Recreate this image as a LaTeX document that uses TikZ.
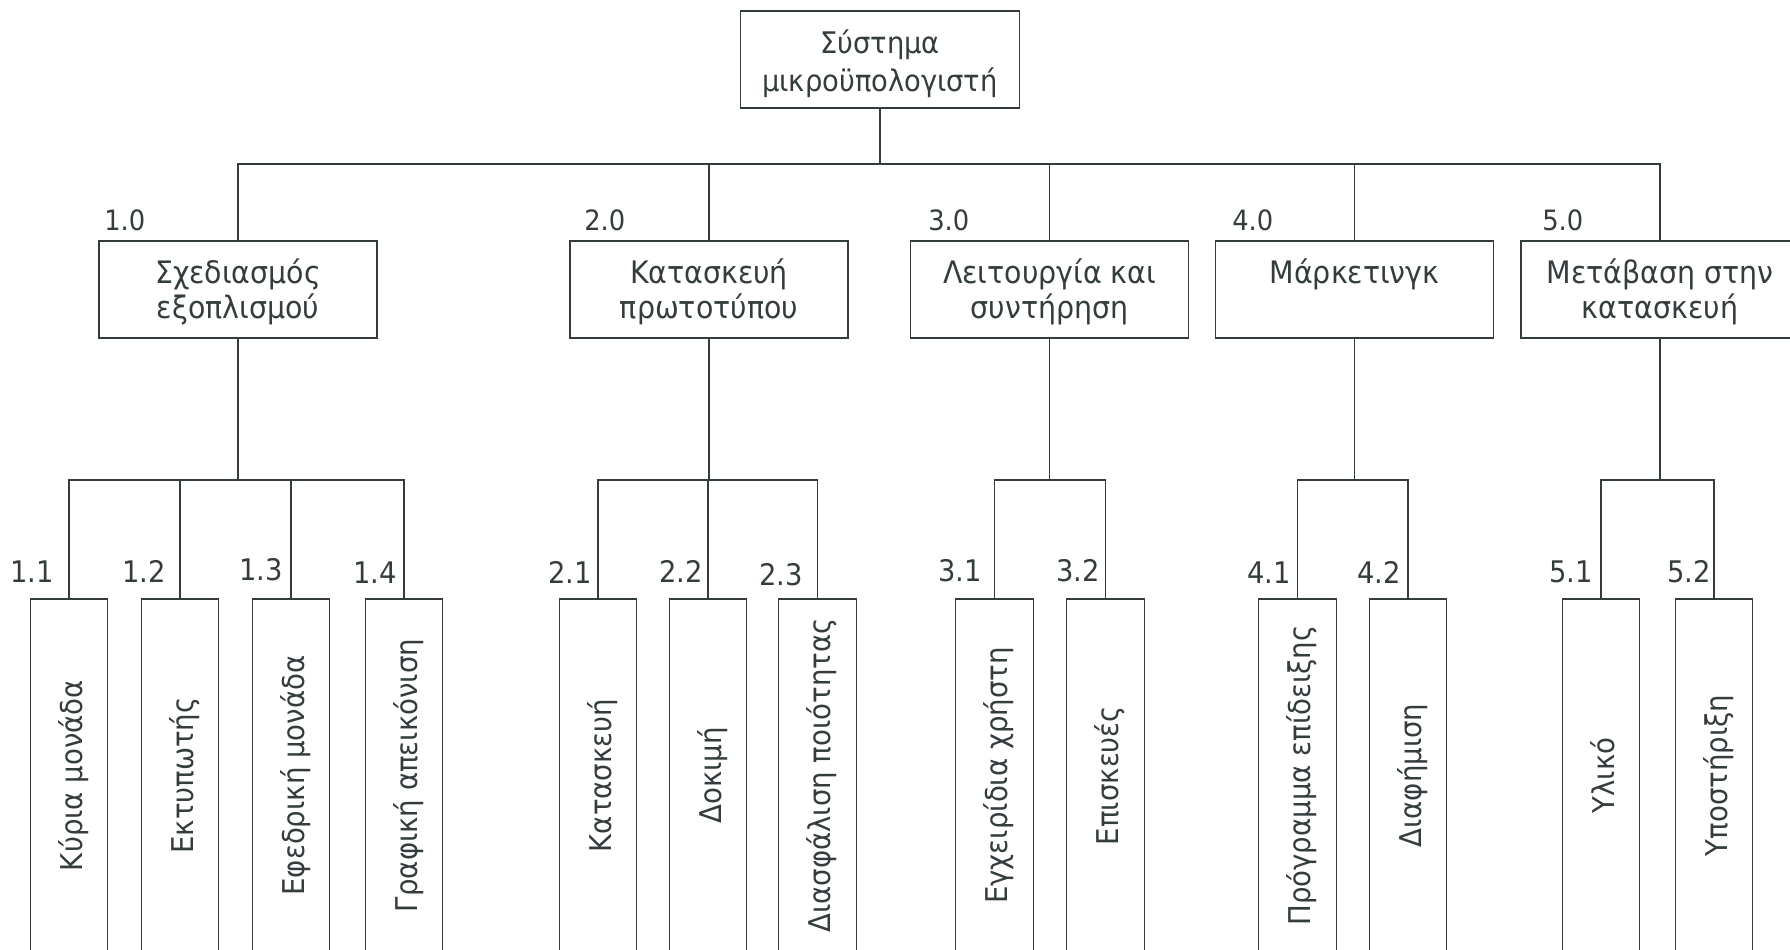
\documentclass[tikz,border=0pt]{standalone}
\usepackage{fontspec}
\setmainfont{DejaVu Sans}[FakeStretch=0.92]
\usetikzlibrary{calc}
\definecolor{ink}{RGB}{52,60,62}

\begin{document}
\begin{tikzpicture}[x=0.75pt,y=-0.75pt,
  every node/.style={text=ink},
  wire/.style={draw=ink,line width=1.05pt},
  boxline/.style={draw=ink,line width=1.05pt,inner sep=0pt},
  rootbox/.style={boxline,minimum width=209.25pt,minimum height=72.75pt,align=center,
    font=\fontsize{22.3}{28.8}\selectfont,text height=54.3pt,text depth=6pt},
  mainbox/.style={boxline,minimum width=208.5pt,minimum height=72.75pt,align=center,
    font=\fontsize{23.2}{26.25}\selectfont,text height=49.2pt,text depth=6pt},
  mainone/.style={mainbox,text height=19.3pt,text depth=28.6pt},
  subbox/.style={boxline,minimum width=58.1pt,minimum height=264.75pt},
  subtext/.style={rotate=90,inner sep=0pt,text=ink,
    font=\fontsize{22.5}{26}\selectfont,text height=19.8pt,text depth=0pt},
  numA/.style={anchor=base west,inner sep=0pt,font=\fontsize{21}{24}\selectfont},
  numB/.style={anchor=base west,inner sep=0pt,font=\fontsize{22.3}{26}\selectfont}
]
\useasboundingbox (0,0) rectangle (1790,949);
\clip (0,0) rectangle (1790,949);

% top of the breakdown
\node[rootbox] (root) at (880,59.5) {Σύστημα\\μικροϋπολογιστή};

% first level
\node[mainbox] (b1) at (238,289.5)    {Σχεδιασμός\\εξοπλισμού};
\node[mainbox] (b2) at (709,289.5)    {Κατασκευή\\πρωτοτύπου};
\node[mainbox] (b3) at (1049.5,289.5) {Λειτουργία και\\συντήρηση};
\node[mainone] (b4) at (1354.5,289.5) {Μάρκετινγκ};
\node[mainbox] (b5) at (1660,289.5)   {Μετάβαση στην\\κατασκευή};

\node[numA] (n10) at (104,230)  {1.0};
\node[numA] (n20) at (584,230)  {2.0};
\node[numA] (n30) at (928,230)  {3.0};
\node[numA] (n40) at (1232,230) {4.0};
\node[numA] (n50) at (1542,230) {5.0};

% second level
\node[subbox,label={[subtext]center:Κύρια μονάδα}]        (s11) at (69,775.5)     {};
\node[subbox,label={[subtext]center:Εκτυπωτής}]           (s12) at (180,775.5)    {};
\node[subbox,label={[subtext]center:Εφεδρική μονάδα}]     (s13) at (291,775.5)    {};
\node[subbox,label={[subtext]center:Γραφική απεικόνιση}]  (s14) at (404,775.5)    {};
\node[subbox,label={[subtext]center:Κατασκευή}]           (s21) at (598,775.5)    {};
\node[subbox,label={[subtext]center:Δοκιμή}]              (s22) at (708,775.5)    {};
\node[subbox,label={[subtext]center:Διασφάλιση ποιότητας}](s23) at (817.5,775.5)  {};
\node[subbox,label={[subtext]center:Εγχειρίδια χρήστη}]   (s31) at (994.5,775.5)  {};
\node[subbox,label={[subtext]center:Επισκευές}]           (s32) at (1105.5,775.5) {};
\node[subbox,label={[subtext]center:Πρόγραμμα επίδειξης}] (s41) at (1297.5,775.5) {};
\node[subbox,label={[subtext]center:Διαφήμιση}]           (s42) at (1408,775.5)   {};
\node[subbox,label={[subtext]center:Υλικό}]               (s51) at (1601,775.5)   {};
\node[subbox,label={[subtext]center:Υποστήριξη}]          (s52) at (1714,775.5)   {};

\node[numB] (n11) at (10,582)   {1.1};
\node[numB] (n12) at (122,582)  {1.2};
\node[numB] (n13) at (239,580)  {1.3};
\node[numB] (n14) at (353,583)  {1.4};
\node[numB] (n21) at (548,583)  {2.1};
\node[numB] (n22) at (659,582)  {2.2};
\node[numB] (n23) at (759,585)  {2.3};
\node[numB] (n31) at (938,581)  {3.1};
\node[numB] (n32) at (1056,581) {3.2};
\node[numB] (n41) at (1247,583) {4.1};
\node[numB] (n42) at (1357,583) {4.2};
\node[numB] (n51) at (1549,582) {5.1};
\node[numB] (n52) at (1667,582) {5.2};

% connectors
\coordinate (bus0) at (880,164);
\coordinate (ysub) at (0,480);
\draw[wire] (root.south) -- (bus0);
\foreach \b in {b1,b2,b3,b4,b5} \draw[wire] (bus0) -| (\b.north);

\foreach \b/\kids in {b1/{s11,s12,s13,s14},b2/{s21,s22,s23},b3/{s31,s32},b4/{s41,s42},b5/{s51,s52}}{
  \coordinate (j\b) at (\b.south |- ysub);
  \draw[wire] (\b.south) -- (j\b);
  \foreach \s in \kids \draw[wire] (j\b) -| (\s.north);
}
\end{tikzpicture}
\end{document}
